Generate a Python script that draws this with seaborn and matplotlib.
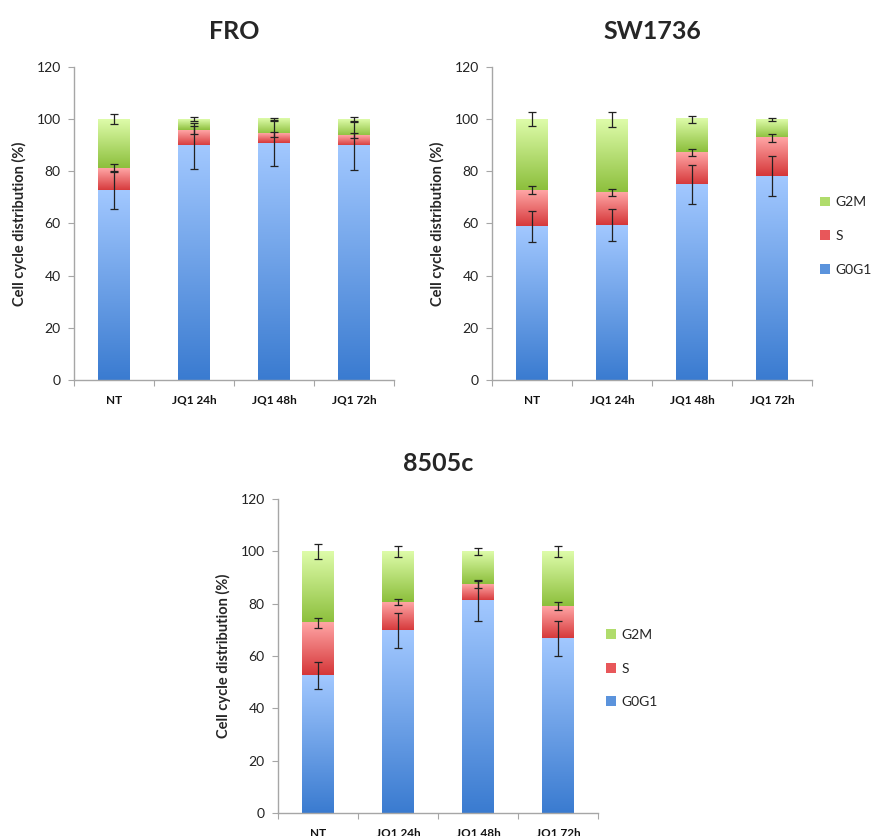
import numpy as np
import pandas as pd
import matplotlib
matplotlib.use("Agg")
import matplotlib.pyplot as plt
import seaborn as sns
from matplotlib.colors import LinearSegmentedColormap
from matplotlib.patches import Patch

sns.set_style("white")
plt.rcParams['font.family'] = ['Lato', 'DejaVu Sans']

categories = ["NT", "JQ1 24h", "JQ1 48h", "JQ1 72h"]
phases = ["G0G1", "S", "G2M"]

fro_g0g1 = [72.6, 89.8, 90.7, 89.8]
fro_s = [8.8, 6.1, 3.5, 3.9]
fro_g2m = [18.6, 4.1, 5.8, 6.3]
fro_err_g0g1 = [7.2, 8.9, 8.8, 9.3]
fro_err_s = [1.3, 1.5, 1.0, 1.0]
fro_err_g2m = [1.8, 0.8, 0.6, 1.0]

sw_g0g1 = [58.8, 59.4, 74.8, 78.2]
sw_s = [14.1, 12.4, 12.5, 14.7]
sw_g2m = [27.1, 28.2, 12.7, 7.1]
sw_err_g0g1 = [6.0, 6.2, 7.5, 7.8]
sw_err_s = [1.5, 1.3, 1.3, 1.5]
sw_err_g2m = [2.7, 2.9, 1.3, 0.6]

c85_g0g1 = [52.6, 69.7, 81.2, 66.6]
c85_s = [20.0, 11.0, 6.2, 12.6]
c85_g2m = [27.4, 19.3, 12.6, 20.8]
c85_err_g0g1 = [5.3, 6.8, 7.9, 6.6]
c85_err_s = [1.8, 1.1, 1.4, 1.5]
c85_err_g2m = [2.8, 2.0, 1.3, 2.2]

grad = {
    "G0G1": ("#3a7bd0", "#a2c8ff"),
    "S": ("#d53638", "#ffa6a6"),
    "G2M": ("#8cbf3c", "#defcaa"),
}
legend_col = {"G0G1": "#5b93dc", "S": "#e8575a", "G2M": "#b0dc6c"}

grey = "#a6a6a6"


def panel(ax, title, g0, s, g2, e0, es, e2, legend=False):
    df = pd.DataFrame({"cat": categories, "G0G1": g0, "S": s, "G2M": g2})
    df["c_G0G1"] = df["G0G1"]
    df["c_S"] = df["G0G1"] + df["S"]
    df["c_G2M"] = df["c_S"] + df["G2M"]
    bottoms = {"G2M": df["c_S"].values, "S": df["c_G0G1"].values,
               "G0G1": np.zeros(len(df))}
    for ph in ["G2M", "S", "G0G1"]:
        n_before = len(ax.patches)
        sns.barplot(data=df, x="cat", y="c_" + ph, ax=ax, width=0.4,
                    color=legend_col[ph], errorbar=None, order=categories)
        new = ax.patches[n_before:]
        cmap = LinearSegmentedColormap.from_list(ph, [grad[ph][0], grad[ph][1]])
        for i, p in enumerate(new):
            x0 = p.get_x()
            w = p.get_width()
            top = p.get_height()
            bot = bottoms[ph][i]
            g = np.linspace(0, 1, 256).reshape(-1, 1)
            ax.imshow(g, cmap=cmap, origin="lower", aspect="auto",
                      extent=[x0, x0 + w, bot, top], zorder=2,
                      interpolation="bicubic")
            p.set_facecolor("none")
            p.set_edgecolor("none")
    xs = np.arange(len(categories))
    for col, err in [("c_G0G1", e0), ("c_S", es), ("c_G2M", e2)]:
        ax.errorbar(xs, df[col].values, yerr=err, fmt="none", ecolor="#222222",
                    elinewidth=0.9, capsize=3, capthick=0.9, zorder=4)
    ax.set_xlim(-0.5, len(categories) - 0.5)
    ax.set_ylim(0, 120)
    ax.set_yticks(range(0, 121, 20))
    ax.set_xlabel("")
    ax.set_ylabel("Cell cycle distribution (%)", fontsize=10.5, fontweight="bold",
                  labelpad=7)
    ax.set_title(title, fontsize=18, fontweight="bold", pad=20)
    for sp in ["top", "right"]:
        ax.spines[sp].set_visible(False)
    for sp in ["left", "bottom"]:
        ax.spines[sp].set_color(grey)
        ax.spines[sp].set_linewidth(1.0)
    ax.tick_params(axis="y", which="major", left=True, length=4.5, width=0.8,
                   color=grey, labelsize=10, labelcolor="#222222", pad=5)
    ax.tick_params(axis="x", which="major", bottom=False, labelsize=8.5,
                   labelcolor="#111111", pad=7)
    for lab in ax.get_xticklabels():
        lab.set_fontweight("bold")
    ax.set_xticks(np.arange(-0.5, len(categories), 1.0), minor=True)
    ax.tick_params(axis="x", which="minor", bottom=True, length=4, width=0.8,
                   color=grey)
    ax.set_zorder(1)
    if legend:
        handles = [Patch(facecolor=legend_col[ph], edgecolor="none", label=ph)
                   for ph in ["G2M", "S", "G0G1"]]
        ax.legend(handles=handles, loc="center left", bbox_to_anchor=(1.0, 0.46),
                  frameon=False, fontsize=10, handlelength=0.7, handleheight=0.7,
                  handletextpad=0.4, labelspacing=1.55, borderaxespad=0.2)


fig = plt.figure(figsize=(8.93, 8.36), dpi=100)
ax1 = fig.add_axes([0.0829, 0.5455, 0.3583, 0.3744])
ax2 = fig.add_axes([0.5510, 0.5455, 0.3583, 0.3744])
ax3 = fig.add_axes([0.3113, 0.0275, 0.3583, 0.3756])

panel(ax1, "FRO", fro_g0g1, fro_s, fro_g2m, fro_err_g0g1, fro_err_s, fro_err_g2m)
panel(ax2, "SW1736", sw_g0g1, sw_s, sw_g2m, sw_err_g0g1, sw_err_s, sw_err_g2m,
      legend=True)
panel(ax3, "8505c", c85_g0g1, c85_s, c85_g2m, c85_err_g0g1, c85_err_s,
      c85_err_g2m, legend=True)

fig.savefig("out.png", dpi=100)
